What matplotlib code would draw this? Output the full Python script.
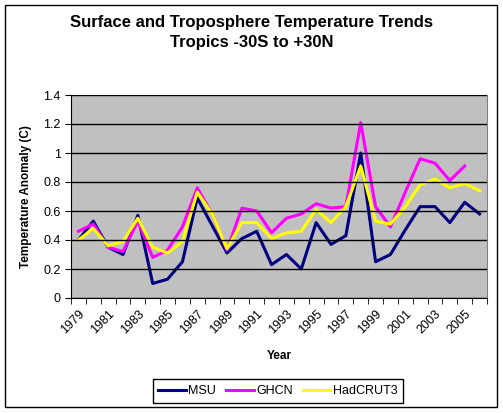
import matplotlib
matplotlib.use("Agg")
import matplotlib.pyplot as plt
from matplotlib.patches import Rectangle

plt.rcParams['font.family'] = ['Liberation Sans', 'DejaVu Sans']

years = list(range(1979, 2007))
msu = [0.40, 0.53, 0.35, 0.30, 0.57, 0.10, 0.13, 0.25, 0.69, 0.50,
       0.31, 0.41, 0.46, 0.23, 0.30, 0.20, 0.52, 0.37, 0.43, 1.00,
       0.25, 0.30, 0.47, 0.63, 0.63, 0.52, 0.66, 0.58]
ghcn = [0.46, 0.51, 0.35, 0.32, 0.53, 0.28, 0.33, 0.49, 0.76, 0.58,
        0.33, 0.62, 0.60, 0.45, 0.55, 0.58, 0.65, 0.62, 0.63, 1.21,
        0.63, 0.49, 0.73, 0.96, 0.93, 0.81, 0.91]
hadcrut = [0.40, 0.48, 0.36, 0.39, 0.55, 0.35, 0.31, 0.39, 0.73, 0.58,
           0.34, 0.52, 0.52, 0.41, 0.45, 0.46, 0.61, 0.52, 0.63, 0.91,
           0.53, 0.51, 0.63, 0.78, 0.82, 0.76, 0.79, 0.74]

fig = plt.figure(figsize=(5.03, 4.13), dpi=100)
fig.patches.append(Rectangle((5 / 503, 1 - 407 / 413), 492 / 503, 402 / 413,
                             transform=fig.transFigure, fill=False,
                             edgecolor='black', linewidth=1))

ax = fig.add_axes([71 / 503, 1 - 298 / 413, 416 / 503, 203 / 413])
ax.set_facecolor('#C0C0C0')

x = [i + 0.5 for i in range(len(years))]
ax.plot(x, msu, color='#000080', lw=2.2, label='MSU')
ax.plot(x[:len(ghcn)], ghcn, color='#FF00FF', lw=2.2, label='GHCN')
ax.plot(x, hadcrut, color='#FFFF00', lw=2.2, label='HadCRUT3')

ax.set_xlim(0, len(years))
ax.set_ylim(0, 1.4)
ax.set_yticks([0, 0.2, 0.4, 0.6, 0.8, 1.0, 1.2, 1.4])
ax.set_yticklabels(['0', '0.2', '0.4', '0.6', '0.8', '1', '1.2', '1.4'], fontsize=9)
ax.yaxis.grid(True, color='black', lw=1)
ax.set_axisbelow(False)

ax.set_xticks([x[i] for i in range(0, len(years), 2)])
ax.set_xticklabels([str(years[i]) for i in range(0, len(years), 2)],
                   rotation=45, ha='right', rotation_mode='anchor', fontsize=9)
ax.set_xticks(range(len(years) + 1), minor=True)
ax.tick_params(axis='x', which='major', length=0, pad=7)
ax.tick_params(axis='x', which='minor', length=4, color='black')
ax.tick_params(axis='y', length=4, color='black')

for s in ['top', 'right']:
    ax.spines[s].set_color('#808080')
for s in ['left', 'bottom']:
    ax.spines[s].set_color('black')

ax.set_xlabel('Year', fontsize=8.5, fontweight='bold', labelpad=10)
ax.set_ylabel('Temperature Anomaly (C)', fontsize=8.5, fontweight='bold', labelpad=8)

fig.text(0.5, 1 - 22 / 413, 'Surface and Troposphere Temperature Trends',
         ha='center', va='center', fontsize=12, fontweight='bold')
fig.text(0.5, 1 - 43 / 413, 'Tropics -30S to +30N',
         ha='center', va='center', fontsize=12, fontweight='bold')

fig.legend(loc='center', bbox_to_anchor=(278 / 503, 1 - 391 / 413), ncol=3,
           fontsize=9, frameon=True, fancybox=False, edgecolor='black',
           handlelength=2.2, handletextpad=0.2, columnspacing=0.8,
           borderpad=0.45, framealpha=1)

fig.savefig('out.png', dpi=100)
